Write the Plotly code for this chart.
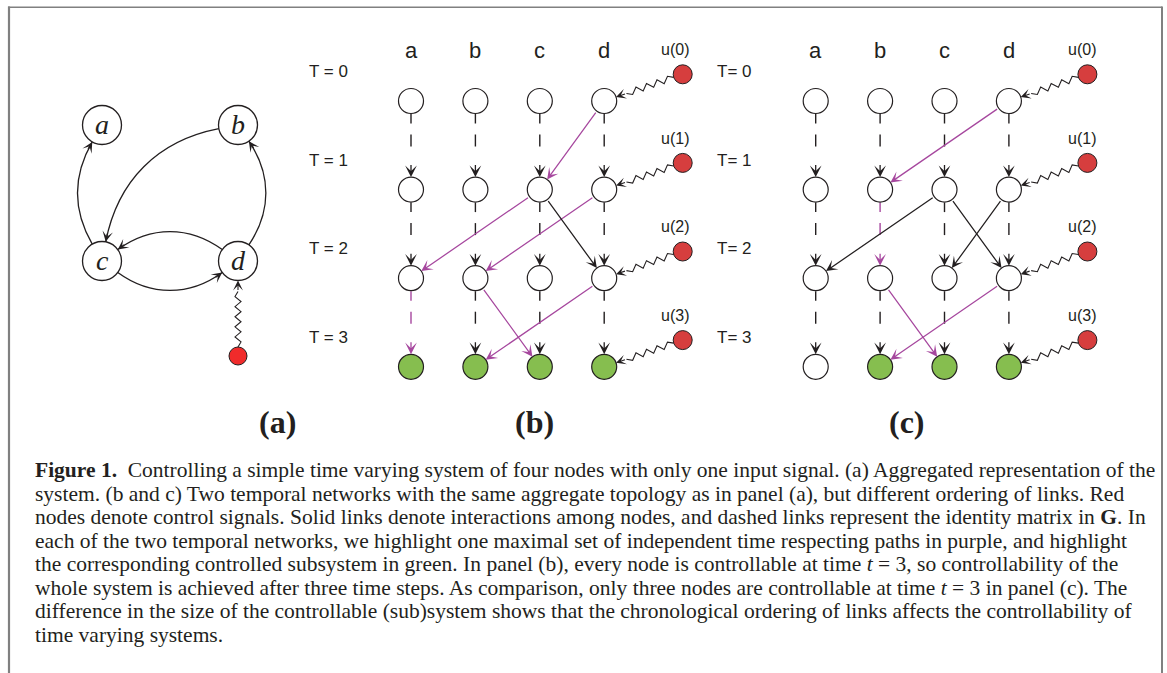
import math
import numpy as np
import plotly.graph_objects as go

W, H = 1167, 673

# ---------------- data ----------------
NODES = ["a", "b", "c", "d"]
TIMES = [0, 1, 2, 3]
T_LABELS_B = ["T = 0", "T = 1", "T = 2", "T = 3"]
T_LABELS_C = ["T= 0", "T= 1", "T= 2", "T= 3"]
U_LABELS = ["u(0)", "u(1)", "u(2)", "u(3)"]
INPUT_NODE = "d"

# Panel (a): aggregated network, grid cell of each node, edges (source, target, bend in degrees)
AGG_CELL = {"a": (0, 0), "b": (1, 0), "c": (0, 1), "d": (1, 1)}
AGG_EDGES = [("c", "a", -30), ("b", "c", 34), ("d", "b", 34), ("d", "c", 36), ("c", "d", 36)]

# Panel (b): interaction links source(t) -> target(t+1)
LINKS_B = [("d", 0, "c"), ("c", 1, "a"), ("d", 1, "b"), ("c", 1, "d"), ("b", 2, "c"), ("d", 2, "b")]
PURPLE_LINKS_B = [("d", 0, "c"), ("c", 1, "a"), ("d", 1, "b"), ("b", 2, "c"), ("d", 2, "b")]
PURPLE_IDENT_B = [("a", 2)]
GREEN_B = ["a", "b", "c", "d"]

# Panel (c)
LINKS_C = [("d", 0, "b"), ("c", 1, "a"), ("c", 1, "d"), ("d", 1, "c"), ("b", 2, "c"), ("d", 2, "b")]
PURPLE_LINKS_C = [("d", 0, "b"), ("b", 2, "c"), ("d", 2, "b")]
PURPLE_IDENT_C = [("b", 1)]
GREEN_C = ["b", "c", "d"]

PANEL_LABELS = ["(a)", "(b)", "(c)"]

CAPTION = [
    "<b>Figure 1.</b>  Controlling a simple time varying system of four nodes with only one input signal. (a) Aggregated representation of the",
    "system. (b and c) Two temporal networks with the same aggregate topology as in panel (a), but different ordering of links. Red",
    "nodes denote control signals. Solid links denote interactions among nodes, and dashed links represent the identity matrix in <b>G</b>. In",
    "each of the two temporal networks, we highlight one maximal set of independent time respecting paths in purple, and highlight",
    "the corresponding controlled subsystem in green. In panel (b), every node is controllable at time <i>t</i> = 3, so controllability of the",
    "whole system is achieved after three time steps. As comparison, only three nodes are controllable at time <i>t</i> = 3 in panel (c). The",
    "difference in the size of the controllable (sub)system shows that the chronological ordering of links affects the controllability of",
    "time varying systems.",
]

# ---------------- style / layout constants ----------------
BLACK = "#231f20"
PURPLE = "#a6479e"
GREEN = "#86be4f"
RED = "#d63e3e"
RED_A = "#f02b2b"
FRAME = "#808080"

AGG_ORIGIN = (102, 125)
AGG_STEP = 136
AGG_R = 19.5
AGG_U_DY = 95

PANEL_X0 = {"b": 411.0, "c": 815.7}
COL_STEP = 64.4
ROW0 = 101.0
ROW_STEP = 88.6
R = 12.5
DASH_SEGS = [(0.5, 10), (21, 33)]   # dash pattern of identity links, px from node edge
ARROW_SEG = 13.5
HEADER_Y = 50
T_LABEL_X = {"b": 328, "c": 734}
T_LABEL_DY = 29.5
U_DX = 78.5
U_DY = 26.7
U_LABEL_DX = {"b": 71, "c": 73.5}
U_LABEL_DY = 51.5
DOT_R = 9.5
PANEL_LABEL_X = [277, 534, 907]
PANEL_LABEL_Y = 422
CAP_X = 33
CAP_Y0 = 470
CAP_STEP = 23.5
CAP_SIZE = 21.5

traces, shapes, annotations = [], [], []


def arrow(x, y, ax, ay, color, width=1.2, standoff=0, startstandoff=0, size=1.45):
    annotations.append(dict(x=x, y=y, ax=ax, ay=ay, xref="x", yref="y", axref="x", ayref="y",
                            text="", showarrow=True, arrowhead=3, arrowsize=size, arrowwidth=width,
                            arrowcolor=color, standoff=standoff, startstandoff=startstandoff))


def seg(x0, y0, x1, y1, color, width=1.3):
    shapes.append(dict(type="line", xref="x", yref="y", x0=x0, y0=y0, x1=x1, y1=y1,
                       line=dict(color=color, width=width), layer="below"))


def line(xs, ys, color, width=1.2):
    traces.append(go.Scatter(x=xs, y=ys, mode="lines", line=dict(color=color, width=width, simplify=False),
                             hoverinfo="skip", showlegend=False))


def text(x, y, s, size, family="Liberation Sans", color=BLACK, xanchor="center"):
    annotations.append(dict(x=x, y=y, xref="x", yref="y", text=s, showarrow=False, xanchor=xanchor,
                            yanchor="middle", font=dict(family=family, size=size, color=color)))


def wiggle(dot, node, r_node, r_dot, color=BLACK, period=11.0, amp=3.0, tail=11.0):
    p = np.array(dot, float)
    q = np.array(node, float)
    L = np.linalg.norm(q - p)
    u = (q - p) / L
    n = np.array([-u[1], u[0]])
    start = p + u * r_dot
    zend = q - u * (r_node + tail)
    Lz = np.linalg.norm(zend - start)
    nhalf = max(2, int(round(Lz / (period / 2))))
    pts = [start]
    for i in range(1, nhalf):
        s = i * Lz / nhalf
        sign = 1 if i % 2 else -1
        pts.append(start + u * s + n * amp * sign)
    pts.append(zend)
    pts = np.array(pts)
    line(pts[:, 0], pts[:, 1], color, width=1.1)
    arrow(q[0], q[1], zend[0], zend[1], color, width=1.1, standoff=r_node, size=1.5)


# ---------------- panel (a) ----------------
def agg_xy(nm):
    cx, cy = AGG_CELL[nm]
    return np.array([AGG_ORIGIN[0] + cx * AGG_STEP, AGG_ORIGIN[1] + cy * AGG_STEP], float)


for s, d, bend in AGG_EDGES:
    ps, pd = agg_xy(s), agg_xy(d)
    ang = math.atan2(pd[1] - ps[1], pd[0] - ps[0])
    out = ang + math.radians(bend)
    inn = ang + math.pi - math.radians(bend)
    do = np.array([math.cos(out), math.sin(out)])
    di = np.array([math.cos(inn), math.sin(inn)])
    P0 = ps + AGG_R * do
    P3 = pd + AGG_R * di
    k = 0.39 * np.linalg.norm(P3 - P0)
    P1 = P0 + k * do
    P2 = P3 + k * di
    shapes.append(dict(type="path", xref="x", yref="y",
                       path=f"M {P0[0]:.2f},{P0[1]:.2f} C {P1[0]:.2f},{P1[1]:.2f} {P2[0]:.2f},{P2[1]:.2f} {P3[0]:.2f},{P3[1]:.2f}",
                       line=dict(color=BLACK, width=1.3)))
    tailp = P3 + 10 * di
    arrow(P3[0], P3[1], tailp[0], tailp[1], BLACK, width=1.3, size=1.35)

dpos = agg_xy(INPUT_NODE)
adot = (dpos[0], dpos[1] + AGG_U_DY)
wiggle(adot, dpos, AGG_R, 9, period=10, amp=3.0, tail=11)

traces.append(go.Scatter(x=[agg_xy(n)[0] for n in NODES], y=[agg_xy(n)[1] for n in NODES], mode="markers",
                         marker=dict(size=2 * AGG_R, color="white", line=dict(color=BLACK, width=1.3)),
                         hoverinfo="skip", showlegend=False))
traces.append(go.Scatter(x=[adot[0]], y=[adot[1]], mode="markers",
                         marker=dict(size=18, color=RED_A, line=dict(color=BLACK, width=1)),
                         hoverinfo="skip", showlegend=False))
for nm in NODES:
    p = agg_xy(nm)
    text(p[0], p[1] - 1, f"<i>{nm}</i>", 28, family="Liberation Serif")


# ---------------- panels (b) and (c) ----------------
def draw_temporal(key, links, purple_links, purple_ident, green, t_labels):
    x0 = PANEL_X0[key]
    colx = {nm: x0 + i * COL_STEP for i, nm in enumerate(NODES)}
    rowy = {t: ROW0 + t * ROW_STEP for t in TIMES}
    # identity (dashed) links
    for nm in NODES:
        for t in TIMES[:-1]:
            col = PURPLE if (nm, t) in purple_ident else BLACK
            x = colx[nm]
            y0 = rowy[t] + R
            y1 = rowy[t + 1]
            for a, b in DASH_SEGS:
                seg(x, y0 + a, x, y0 + b, col, width=1.4)
            arrow(x, y1, x, y1 - R - ARROW_SEG, col, width=1.3, standoff=R, size=1.5)
    # interaction links
    for (s, t, d) in links:
        col = PURPLE if (s, t, d) in purple_links else BLACK
        arrow(colx[d], rowy[t + 1], colx[s], rowy[t], col, width=1.25, standoff=R, startstandoff=R, size=1.5)
    # inputs
    dots_x, dots_y = [], []
    for t in TIMES:
        node = (colx[INPUT_NODE], rowy[t])
        dot = (colx[INPUT_NODE] + U_DX, rowy[t] - U_DY)
        wiggle(dot, node, R, DOT_R)
        dots_x.append(dot[0])
        dots_y.append(dot[1])
        text(colx[INPUT_NODE] + U_LABEL_DX[key], rowy[t] - U_LABEL_DY, U_LABELS[t], 16)
        text(T_LABEL_X[key], rowy[t] - T_LABEL_DY, t_labels[t], 17)
    # nodes
    xs, ys, fills = [], [], []
    for t in TIMES:
        for nm in NODES:
            xs.append(colx[nm])
            ys.append(rowy[t])
            fills.append(GREEN if (t == TIMES[-1] and nm in green) else "white")
    traces.append(go.Scatter(x=xs, y=ys, mode="markers",
                             marker=dict(size=2 * R, color=fills, line=dict(color=BLACK, width=1.2)),
                             hoverinfo="skip", showlegend=False))
    traces.append(go.Scatter(x=dots_x, y=dots_y, mode="markers",
                             marker=dict(size=2 * DOT_R, color=RED, line=dict(color=BLACK, width=1)),
                             hoverinfo="skip", showlegend=False))
    for nm in NODES:
        text(colx[nm], HEADER_Y, nm, 22)


draw_temporal("b", LINKS_B, PURPLE_LINKS_B, PURPLE_IDENT_B, GREEN_B, T_LABELS_B)
draw_temporal("c", LINKS_C, PURPLE_LINKS_C, PURPLE_IDENT_C, GREEN_C, T_LABELS_C)

for lx, lab in zip(PANEL_LABEL_X, PANEL_LABELS):
    text(lx, PANEL_LABEL_Y, f"<b>{lab}</b>", 32, family="Liberation Serif")

for i, ln in enumerate(CAPTION):
    text(CAP_X, CAP_Y0 + i * CAP_STEP, ln, CAP_SIZE, family="Liberation Serif", xanchor="left")

# frame
shapes.append(dict(type="line", xref="x", yref="y", x0=8, x1=1162, y0=7.3, y1=7.3, line=dict(color=FRAME, width=1.5)))
shapes.append(dict(type="line", xref="x", yref="y", x0=9, x1=9, y0=6.5, y1=H, line=dict(color=FRAME, width=2.2)))
shapes.append(dict(type="line", xref="x", yref="y", x0=1162, x1=1162, y0=6.5, y1=H, line=dict(color=FRAME, width=2)))

fig = go.Figure(data=traces)
fig.update_layout(
    width=W, height=H, margin=dict(l=0, r=0, t=0, b=0),
    paper_bgcolor="white", plot_bgcolor="white",
    xaxis=dict(range=[0, W], visible=False, fixedrange=True),
    yaxis=dict(range=[H, 0], visible=False, fixedrange=True),
    shapes=shapes, annotations=annotations, showlegend=False,
)
fig.write_html("out.html", config={"displayModeBar": False},
               post_script="document.body.style.margin='0px';")
